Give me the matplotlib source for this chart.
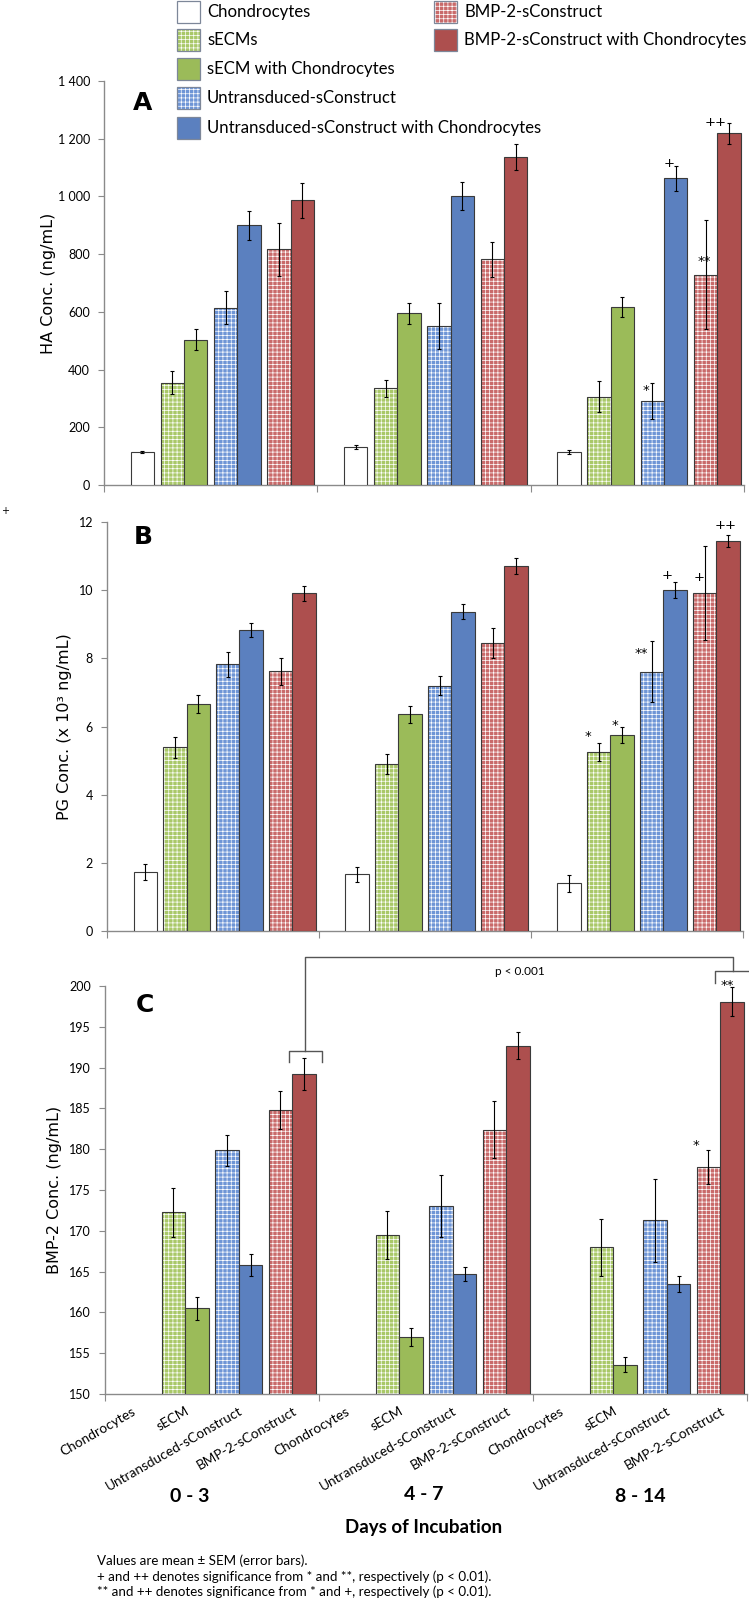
import numpy as np
import matplotlib
matplotlib.use("Agg")
import matplotlib.pyplot as plt
from matplotlib.patches import Rectangle
from matplotlib.ticker import FuncFormatter, FixedLocator

plt.rcParams['hatch.linewidth'] = 0.5

# ---------------- data ----------------
days = ["0 - 3", "4 - 7", "8 - 14"]
categories = ["Chondrocytes", "sECM", "Untransduced-sConstruct", "BMP-2-sConstruct"]
legend_labels = ["Chondrocytes", "sECMs", "sECM with Chondrocytes",
                 "Untransduced-sConstruct", "Untransduced-sConstruct with Chondrocytes",
                 "BMP-2-sConstruct", "BMP-2-sConstruct with Chondrocytes"]

# Panel A: HA (ng/mL)
ha_chondro = [115, 132, 115];      ha_chondro_err = [3, 8, 6]
ha_secm = [355, 335, 306];         ha_secm_err = [40, 30, 53]
ha_secm_ch = [504, 595, 617];      ha_secm_ch_err = [35, 37, 35]
ha_untr = [615, 551, 290];         ha_untr_err = [58, 80, 63]
ha_untr_ch = [900, 1002, 1063];    ha_untr_ch_err = [50, 48, 43]
ha_bmp = [817, 782, 729];          ha_bmp_err = [92, 60, 190]
ha_bmp_ch = [986, 1136, 1219];     ha_bmp_ch_err = [60, 44, 36]

# Panel B: PG (x10^3 ng/mL)
pg_chondro = [1.74, 1.67, 1.40];   pg_chondro_err = [0.23, 0.22, 0.25]
pg_secm = [5.39, 4.90, 5.26];      pg_secm_err = [0.30, 0.28, 0.27]
pg_secm_ch = [6.66, 6.36, 5.76];   pg_secm_ch_err = [0.25, 0.25, 0.23]
pg_untr = [7.83, 7.20, 7.61];      pg_untr_err = [0.37, 0.28, 0.89]
pg_untr_ch = [8.84, 9.37, 10.01];  pg_untr_ch_err = [0.20, 0.22, 0.23]
pg_bmp = [7.62, 8.45, 9.93];       pg_bmp_err = [0.40, 0.43, 1.38]
pg_bmp_ch = [9.91, 10.70, 11.44];  pg_bmp_ch_err = [0.22, 0.23, 0.17]

# Panel C: BMP-2 (ng/mL) -- chondrocytes below axis range (no bar)
bmp2_secm = [172.3, 169.5, 168.0];     bmp2_secm_err = [3.0, 2.9, 3.5]
bmp2_secm_ch = [160.5, 157.0, 153.6];  bmp2_secm_ch_err = [1.4, 1.1, 0.9]
bmp2_untr = [179.9, 173.0, 171.3];     bmp2_untr_err = [1.9, 3.8, 5.1]
bmp2_untr_ch = [165.8, 164.7, 163.5];  bmp2_untr_ch_err = [1.3, 0.9, 1.0]
bmp2_bmp = [184.8, 182.4, 177.8];      bmp2_bmp_err = [2.3, 3.5, 2.1]
bmp2_bmp_ch = [189.2, 192.7, 198.1];   bmp2_bmp_ch_err = [2.0, 1.7, 1.8]

# ---------------- style ----------------
GREEN = '#9bbb59'
BLUE = '#5b80bf'
RED = '#ad4f4e'
GREEN_P = '#a9c868'
BLUE_P = '#6e95d6'
RED_P = '#c96a6a'
EDGE = '#3a3a3a'
AXC = '#8a8a8a'
HATCH = '++++'
BW = 0.44
OFF = 0.22
NARROW = ['Lato', 'DejaVu Sans']

W, H = 749, 1599
fig = plt.figure(figsize=(W / 100, H / 100), dpi=100)


def fx(px):
    return px / W


def fy(py):
    return 1 - py / H


def axes_at(x0, x1, ytop, ybot):
    return fig.add_axes([fx(x0), fy(ybot), fx(x1 - x0), (ybot - ytop) / H])


def draw_bars(ax, xs, vals, errs, color, patterned):
    xs = np.asarray(xs, float)
    if patterned:
        ax.bar(xs, vals, BW, color=color, edgecolor='white', hatch=HATCH, linewidth=0, zorder=2)
        ax.bar(xs, vals, BW, fill=False, edgecolor=EDGE, linewidth=0.8, zorder=3)
    else:
        ax.bar(xs, vals, BW, color=color, edgecolor=EDGE, linewidth=0.8, zorder=3)
    ax.errorbar(xs, vals, yerr=errs, fmt='none', ecolor='black', elinewidth=0.8,
                capsize=1.6, capthick=0.8, zorder=4)


def style_axes(ax, ymin, ymax, ystep, fmt=None):
    ax.set_xlim(-0.5, 11.5)
    ax.set_ylim(ymin, ymax)
    for s in ['top', 'right']:
        ax.spines[s].set_visible(False)
    for s in ['left', 'bottom']:
        ax.spines[s].set_color(AXC)
        ax.spines[s].set_linewidth(1.0)
    ax.set_yticks(np.arange(ymin, ymax + ystep / 2, ystep))
    if fmt is not None:
        ax.yaxis.set_major_formatter(FuncFormatter(fmt))
    ax.tick_params(axis='y', direction='out', length=4, color=AXC, labelsize=9, pad=6)
    for lab in ax.get_yticklabels():
        lab.set_family(NARROW)
    ax.xaxis.set_major_locator(FixedLocator([-0.5, 3.5, 7.5, 11.5]))
    ax.tick_params(axis='x', which='major', direction='out', length=5, color=AXC,
                   labelbottom=False)
    ax.patch.set_alpha(0)


def draw_panel(ax, chondro, chondro_err, pairs):
    groups = np.arange(len(days)) * 4
    if chondro is not None:
        ax.bar(groups + OFF, chondro, BW, color='white', edgecolor=EDGE, linewidth=0.8, zorder=3)
        ax.errorbar(groups + OFF, chondro, yerr=chondro_err, fmt='none', ecolor='black',
                    elinewidth=0.8, capsize=1.6, capthick=0.8, zorder=4)
    for ci, (pcol, scol, pv, pe, sv, se) in enumerate(pairs, start=1):
        draw_bars(ax, groups + ci - OFF, pv, pe, pcol, True)
        draw_bars(ax, groups + ci + OFF, sv, se, scol, False)


# ---------------- Panel A ----------------
axA = axes_at(104, 744, 81, 485)
draw_panel(axA, ha_chondro, ha_chondro_err, [
    (GREEN_P, GREEN, ha_secm, ha_secm_err, ha_secm_ch, ha_secm_ch_err),
    (BLUE_P, BLUE, ha_untr, ha_untr_err, ha_untr_ch, ha_untr_ch_err),
    (RED_P, RED, ha_bmp, ha_bmp_err, ha_bmp_ch, ha_bmp_ch_err)])
style_axes(axA, 0, 1400, 200, lambda v, p: f"{int(v):,}".replace(",", " "))
for (x, y, t) in [(9.66, 326, '*'), (10.75, 773, '**'), (10.09, 1114, '+'), (10.96, 1256, '++')]:
    axA.text(x, y, t, ha='center', va='center', fontsize=9.5, zorder=5)

# ---------------- Panel B ----------------
axB = axes_at(107, 743, 522, 931)
draw_panel(axB, pg_chondro, pg_chondro_err, [
    (GREEN_P, GREEN, pg_secm, pg_secm_err, pg_secm_ch, pg_secm_ch_err),
    (BLUE_P, BLUE, pg_untr, pg_untr_err, pg_untr_ch, pg_untr_ch_err),
    (RED_P, RED, pg_bmp, pg_bmp_err, pg_bmp_ch, pg_bmp_ch_err)])
style_axes(axB, 0, 12, 2, lambda v, p: f"{int(v)}")
for (x, y, t) in [(8.58, 5.72, '*'), (9.08, 6.02, '*'), (9.58, 8.13, '**'),
                  (10.07, 10.42, '+'), (10.67, 10.36, '+'), (11.18, 11.91, '++')]:
    axB.text(x, y, t, ha='center', va='center', fontsize=9.5, zorder=5)

# ---------------- Panel C ----------------
axC = axes_at(105, 747, 986, 1394)
draw_panel(axC, None, None, [
    (GREEN_P, GREEN, bmp2_secm, bmp2_secm_err, bmp2_secm_ch, bmp2_secm_ch_err),
    (BLUE_P, BLUE, bmp2_untr, bmp2_untr_err, bmp2_untr_ch, bmp2_untr_ch_err),
    (RED_P, RED, bmp2_bmp, bmp2_bmp_err, bmp2_bmp_ch, bmp2_bmp_ch_err)])
style_axes(axC, 150, 200, 5, lambda v, p: f"{int(v)}")
axC.set_xticks(np.arange(12), minor=True)
axC.set_xticklabels(categories * 3, minor=True)
axC.tick_params(axis='x', which='minor', length=0, pad=8)
for lab in axC.get_xticklabels(minor=True):
    lab.set_rotation(30)
    lab.set_ha('right')
    lab.set_va('top')
    lab.set_rotation_mode('anchor')
    lab.set_fontsize(9.8)
    lab.set_family(NARROW)
for (x, y, t) in [(10.55, 180.5, '*'), (11.13, 200.1, '**')]:
    axC.text(x, y, t, ha='center', va='center', fontsize=9.5, zorder=5)

# significance bracket
bc = '#555555'
kw = dict(color=bc, lw=1.0, clip_on=False, zorder=5)
axC.plot([2.94, 2.94, 3.56, 3.56], [190.7, 192.0, 192.0, 190.7], **kw)
axC.plot([3.24, 3.24, 11.24, 11.24], [192.0, 203.5, 203.5, 201.8], **kw)
axC.plot([10.90, 10.90, 11.56, 11.56], [200.4, 201.8, 201.8, 200.4], **kw)
axC.text(7.26, 201.8, 'p < 0.001', ha='center', va='center', fontsize=8.5, family=NARROW)

# ---------------- panel letters & y labels ----------------
for (x, y, t) in [(143, 103, 'A'), (143, 537, 'B'), (145, 1005, 'C')]:
    fig.text(fx(x), fy(y), t, ha='center', va='center', fontsize=18, fontweight='bold',
             family=['Liberation Sans Narrow', 'DejaVu Sans'])

fig.text(fx(48), fy(283), 'HA Conc. (ng/mL)', rotation=90, ha='center', va='center', fontsize=11.5)
fig.text(fx(65), fy(727), 'PG Conc. (x 10³ ng/mL)', rotation=90, ha='center', va='center', fontsize=11.5)
fig.text(fx(55), fy(1190), 'BMP-2 Conc. (ng/mL)', rotation=90, ha='center', va='center', fontsize=11.5)
fig.text(fx(5), fy(511), '+', ha='center', va='center', fontsize=7)

# ---------------- group / axis titles ----------------
for (x, y, t) in [(190, 1497, days[0]), (424, 1495, days[1]), (640, 1497, days[2])]:
    fig.text(fx(x), fy(y), t, ha='center', va='center', fontsize=14, fontweight='bold', family=NARROW)
fig.text(fx(424), fy(1528), 'Days of Incubation', ha='center', va='center', fontsize=13.5,
         fontweight='bold', family=NARROW)

notes = ["Values are mean ± SEM (error bars).",
         "+ and ++ denotes significance from * and **, respectively (p < 0.01).",
         "** and ++ denotes significance from * and +, respectively (p < 0.01)."]
for y, t in zip([1561, 1577, 1592], notes):
    fig.text(fx(97), fy(y), t, ha='left', va='center', fontsize=9.6, family=NARROW)

# ---------------- legend ----------------
leg_items = [
    (177, 12, 'white', False, legend_labels[0]),
    (177, 40, GREEN_P, True, legend_labels[1]),
    (177, 69, GREEN, False, legend_labels[2]),
    (177, 98, BLUE_P, True, legend_labels[3]),
    (177, 128, BLUE, False, legend_labels[4]),
    (434, 12, RED_P, True, legend_labels[5]),
    (434, 40, RED, False, legend_labels[6]),
]
pw, ph = 23, 22
for (x, yc, col, pat, lab) in leg_items:
    if pat:
        fig.patches.append(Rectangle((fx(x), fy(yc + ph / 2)), fx(pw), ph / H, transform=fig.transFigure,
                                     facecolor=col, edgecolor='white', hatch=HATCH, linewidth=0))
        fig.patches.append(Rectangle((fx(x), fy(yc + ph / 2)), fx(pw), ph / H, transform=fig.transFigure,
                                     fill=False, edgecolor='#7d8799', linewidth=0.9))
    else:
        fig.patches.append(Rectangle((fx(x), fy(yc + ph / 2)), fx(pw), ph / H, transform=fig.transFigure,
                                     facecolor=col, edgecolor='#7d8799', linewidth=0.9))
    fig.text(fx(x + 30), fy(yc), lab, ha='left', va='center', fontsize=12.1, family=NARROW)

fig.savefig('out.png', dpi=100)
